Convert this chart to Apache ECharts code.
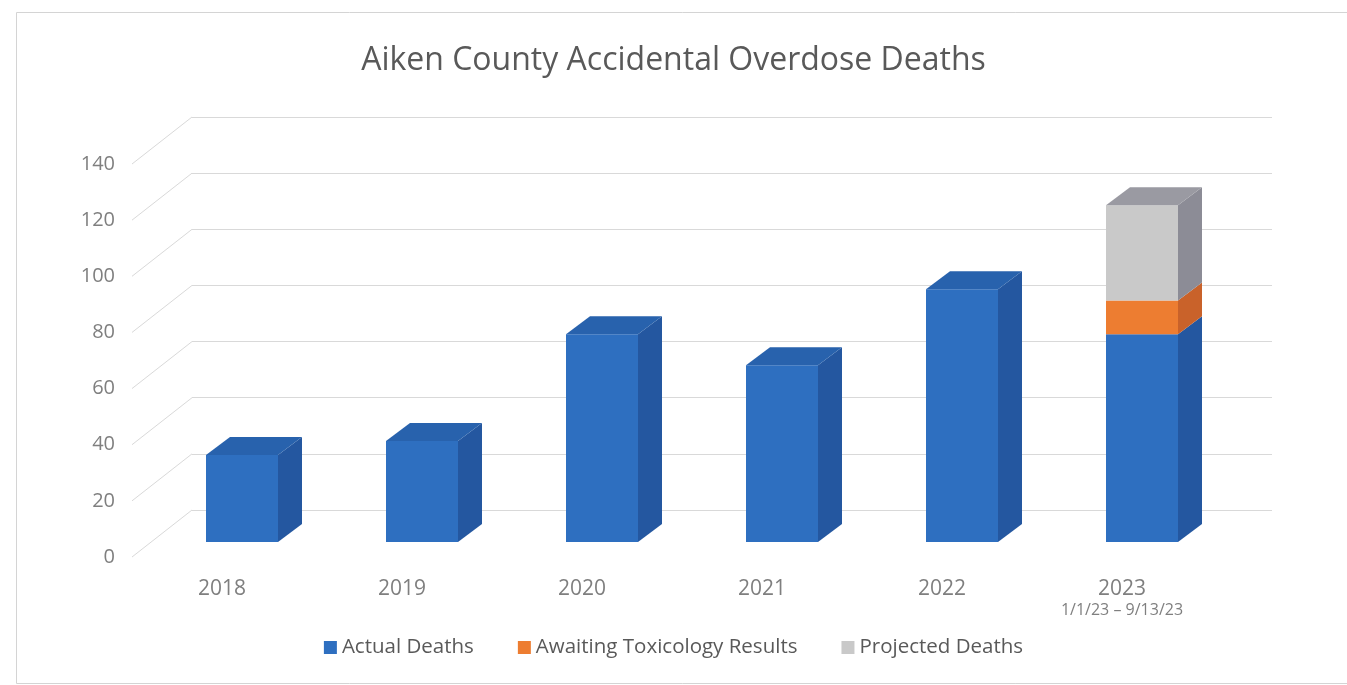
<!DOCTYPE html>
<html>
<head>
<meta charset="utf-8">
<script src="https://cdn.jsdelivr.net/npm/echarts@6/dist/echarts.min.js"></script>
<style>html,body{margin:0;padding:0;background:#fff;}#c{width:1347px;height:685px;}</style>
</head>
<body>
<div id="c"></div>
<script>
const categories = ['2018', '2019', '2020', '2021', '2022', '2023'];
const actualDeaths = [31, 36, 74, 63, 90, 74];
const awaitingTox = [0, 0, 0, 0, 0, 12];
const projectedDeaths = [0, 0, 0, 0, 0, 34];
const yTicks = [0, 20, 40, 60, 80, 100, 120, 140];
const subLabel2023 = '1/1/23 – 9/13/23';

const FONT = "'Open Sans', 'Noto Sans', sans-serif";
const WALL_DX = 60, WALL_DY = -47;   // back-wall offset
const FACE_DX = 20, FACE_DY = -15;   // bar front-face offset
const DEPTH_DX = 24, DEPTH_DY = -18; // bar depth
const BAR_W = 72;

const seriesDefs = [
  { name: 'Actual Deaths', values: actualDeaths, front: '#2E6FC0', side: '#2457A0', top: '#2862AD' },
  { name: 'Awaiting Toxicology Results', values: awaitingTox, front: '#ED7D31', side: '#C9622A', top: '#E07035' },
  { name: 'Projected Deaths', values: projectedDeaths, front: '#C9C9C9', side: '#8C8C96', top: '#9A9AA2' }
];

function buildBarSeries() {
  return seriesDefs.map((def, k) => {
    const data = categories.map((c, i) => {
      let start = 0;
      for (let j = 0; j < k; j++) start += seriesDefs[j].values[i];
      let isTop = 1;
      for (let j = k + 1; j < seriesDefs.length; j++) if (seriesDefs[j].values[i] > 0) isTop = 0;
      return [i, start, start + def.values[i], isTop];
    });
    return {
      type: 'custom',
      name: def.name,
      xAxisIndex: 0, yAxisIndex: 0,
      itemStyle: { color: def.front },
      z: 10 + k,
      data: data,
      renderItem: function (params, api) {
        const i = api.value(0), s = api.value(1), e = api.value(2), isTop = api.value(3);
        if (e - s <= 0) return null;
        const a = api.coord([i, s]);
        const b = api.coord([i, e]);
        const x0 = a[0] + FACE_DX - BAR_W / 2;
        const x1 = x0 + BAR_W;
        const yb = a[1] + FACE_DY;
        const yt = b[1] + FACE_DY;
        const children = [
          { type: 'rect', shape: { x: x0, y: yt, width: BAR_W, height: yb - yt }, style: { fill: def.front } },
          { type: 'polygon', shape: { points: [[x1, yb], [x1 + DEPTH_DX, yb + DEPTH_DY], [x1 + DEPTH_DX, yt + DEPTH_DY], [x1, yt]] }, style: { fill: def.side } }
        ];
        if (isTop) {
          children.push({ type: 'polygon', shape: { points: [[x0, yt], [x0 + DEPTH_DX, yt + DEPTH_DY], [x1 + DEPTH_DX, yt + DEPTH_DY], [x1, yt]] }, style: { fill: def.top } });
        }
        return { type: 'group', children: children };
      }
    };
  });
}

const chart = echarts.init(document.getElementById('c'), null, { renderer: 'canvas' });
const option = {
  backgroundColor: '#ffffff',
  animation: false,
  title: {
    text: 'Aiken County Accidental Overdose Deaths',
    left: 'center', top: 40,
    textStyle: { fontFamily: FONT, fontSize: 32, fontWeight: 'normal', color: '#595959' }
  },
  graphic: [
    { type: 'rect', left: 14, top: 10, shape: { width: 1400, height: 671 }, style: { fill: 'none', stroke: '#d4d4d4', lineWidth: 1 }, silent: true }
  ],
  legend: {
    bottom: 22, left: 'center',
    itemWidth: 13, itemHeight: 13, itemGap: 44,
    icon: 'rect',
    textStyle: { fontFamily: FONT, fontSize: 20.5, color: '#595959' },
    data: seriesDefs.map(d => d.name)
  },
  grid: [
    { left: 132, top: 164, width: 1080, height: 393 },
    { left: 132 + WALL_DX, top: 164 + WALL_DY, width: 1080, height: 393 }
  ],
  xAxis: [
    {
      type: 'category', gridIndex: 0, data: categories,
      axisLine: { show: false }, axisTick: { show: false },
      axisLabel: {
        margin: 20,
        formatter: function (v) { return v === '2023' ? '{y|' + v + '}\n{s|' + subLabel2023 + '}' : '{y|' + v + '}'; },
        rich: {
          y: { fontFamily: FONT, fontSize: 21, color: '#7f7f7f', lineHeight: 24 },
          s: { fontFamily: FONT, fontSize: 16, color: '#7f7f7f', lineHeight: 18 }
        }
      }
    },
    { type: 'category', gridIndex: 1, data: categories, show: false }
  ],
  yAxis: [
    {
      type: 'value', gridIndex: 0, min: 0, max: 140, interval: 20,
      axisLine: { show: false }, axisTick: { show: false }, splitLine: { show: false },
      axisLabel: { margin: 17, fontFamily: FONT, fontSize: 20, color: '#7f7f7f' }
    },
    {
      type: 'value', gridIndex: 1, min: 0, max: 140, interval: 20,
      axisLine: { show: false }, axisTick: { show: false }, axisLabel: { show: false },
      splitLine: { show: true, lineStyle: { color: '#d9d9d9', width: 1 } }
    }
  ],
  series: [
    {
      type: 'custom', name: 'sideWall', xAxisIndex: 0, yAxisIndex: 0, silent: true, z: 1,
      data: yTicks.map(v => [0, v]),
      renderItem: function (params, api) {
        const p = api.coord([0, api.value(1)]);
        const x = params.coordSys.x;
        return { type: 'line', shape: { x1: x, y1: p[1], x2: x + WALL_DX, y2: p[1] + WALL_DY }, style: { stroke: '#d9d9d9', lineWidth: 1 } };
      }
    }
  ].concat(buildBarSeries())
};
chart.setOption(option);
</script>
</body>
</html>
